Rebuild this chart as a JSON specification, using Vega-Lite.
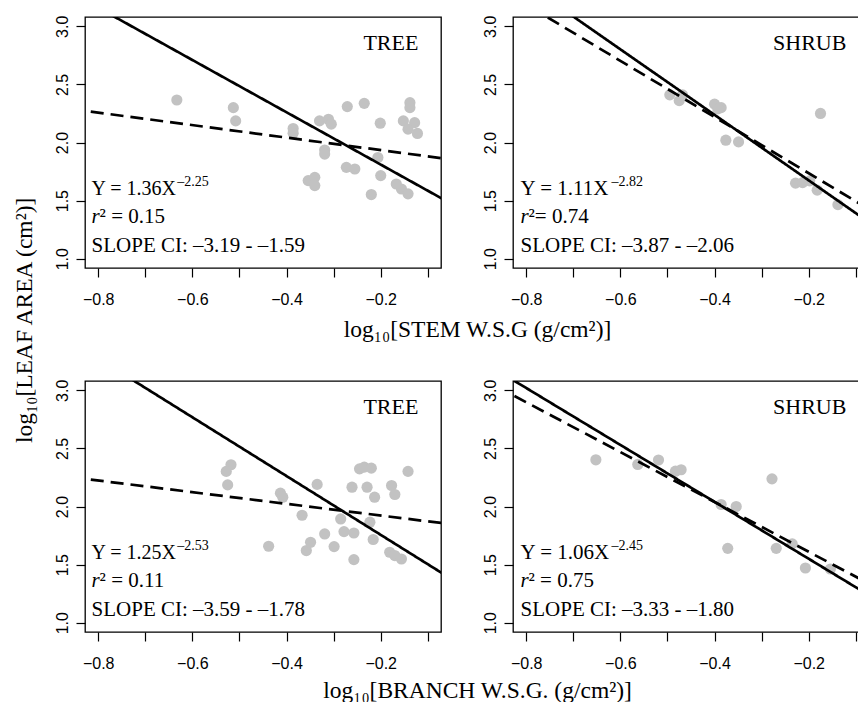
{
  "$schema": "https://vega.github.io/schema/vega-lite/v6.json",
  "background": "white",
  "padding": {"left": 12, "top": 14, "right": 0, "bottom": 0},
  "spacing": 36,
  "title": {"text": "log₁₀[LEAF AREA (cm²)]", "orient": "left", "anchor": "middle", "frame": "bounds", "offset": 17, "dx": 38},
  "datasets": {
    "pts": [
      {"p": "TL", "x": -0.633, "y": 2.366}, {"p": "TL", "x": -0.513, "y": 2.30}, {"p": "TL", "x": -0.508, "y": 2.186},
      {"p": "TL", "x": -0.386, "y": 2.12}, {"p": "TL", "x": -0.386, "y": 2.08},
      {"p": "TL", "x": -0.271, "y": 2.309}, {"p": "TL", "x": -0.235, "y": 2.337}, {"p": "TL", "x": -0.138, "y": 2.343}, {"p": "TL", "x": -0.138, "y": 2.30},
      {"p": "TL", "x": -0.330, "y": 2.186}, {"p": "TL", "x": -0.311, "y": 2.20}, {"p": "TL", "x": -0.305, "y": 2.158},
      {"p": "TL", "x": -0.201, "y": 2.166},
      {"p": "TL", "x": -0.152, "y": 2.186}, {"p": "TL", "x": -0.128, "y": 2.171}, {"p": "TL", "x": -0.142, "y": 2.115}, {"p": "TL", "x": -0.122, "y": 2.078},
      {"p": "TL", "x": -0.319, "y": 1.935}, {"p": "TL", "x": -0.319, "y": 1.90},
      {"p": "TL", "x": -0.273, "y": 1.786}, {"p": "TL", "x": -0.255, "y": 1.772},
      {"p": "TL", "x": -0.206, "y": 1.871}, {"p": "TL", "x": -0.200, "y": 1.715},
      {"p": "TL", "x": -0.354, "y": 1.672}, {"p": "TL", "x": -0.340, "y": 1.700}, {"p": "TL", "x": -0.340, "y": 1.629},
      {"p": "TL", "x": -0.220, "y": 1.552},
      {"p": "TL", "x": -0.167, "y": 1.643}, {"p": "TL", "x": -0.156, "y": 1.600}, {"p": "TL", "x": -0.142, "y": 1.558},
      {"p": "TR", "x": -0.495, "y": 2.41}, {"p": "TR", "x": -0.475, "y": 2.36}, {"p": "TR", "x": -0.468, "y": 2.41},
      {"p": "TR", "x": -0.400, "y": 2.33}, {"p": "TR", "x": -0.386, "y": 2.30}, {"p": "TR", "x": -0.393, "y": 2.29},
      {"p": "TR", "x": -0.376, "y": 2.02}, {"p": "TR", "x": -0.349, "y": 2.005}, {"p": "TR", "x": -0.175, "y": 2.25},
      {"p": "TR", "x": -0.228, "y": 1.65}, {"p": "TR", "x": -0.213, "y": 1.655}, {"p": "TR", "x": -0.198, "y": 1.67},
      {"p": "TR", "x": -0.182, "y": 1.59}, {"p": "TR", "x": -0.138, "y": 1.465},
      {"p": "BL", "x": -0.518, "y": 2.359}, {"p": "BL", "x": -0.528, "y": 2.302}, {"p": "BL", "x": -0.525, "y": 2.186},
      {"p": "BL", "x": -0.413, "y": 2.115}, {"p": "BL", "x": -0.408, "y": 2.08},
      {"p": "BL", "x": -0.367, "y": 1.925}, {"p": "BL", "x": -0.438, "y": 1.658},
      {"p": "BL", "x": -0.358, "y": 1.621}, {"p": "BL", "x": -0.349, "y": 1.692},
      {"p": "BL", "x": -0.335, "y": 2.19}, {"p": "BL", "x": -0.319, "y": 1.764}, {"p": "BL", "x": -0.299, "y": 1.655},
      {"p": "BL", "x": -0.285, "y": 1.893}, {"p": "BL", "x": -0.278, "y": 1.784}, {"p": "BL", "x": -0.257, "y": 1.772},
      {"p": "BL", "x": -0.257, "y": 1.543}, {"p": "BL", "x": -0.261, "y": 2.166},
      {"p": "BL", "x": -0.245, "y": 2.324}, {"p": "BL", "x": -0.235, "y": 2.339}, {"p": "BL", "x": -0.220, "y": 2.33},
      {"p": "BL", "x": -0.229, "y": 2.166}, {"p": "BL", "x": -0.213, "y": 2.08},
      {"p": "BL", "x": -0.223, "y": 1.865}, {"p": "BL", "x": -0.216, "y": 1.716},
      {"p": "BL", "x": -0.177, "y": 2.181}, {"p": "BL", "x": -0.170, "y": 2.103}, {"p": "BL", "x": -0.142, "y": 2.302},
      {"p": "BL", "x": -0.181, "y": 1.606}, {"p": "BL", "x": -0.170, "y": 1.578}, {"p": "BL", "x": -0.156, "y": 1.548},
      {"p": "BR", "x": -0.652, "y": 2.402}, {"p": "BR", "x": -0.563, "y": 2.362}, {"p": "BR", "x": -0.519, "y": 2.40},
      {"p": "BR", "x": -0.483, "y": 2.304}, {"p": "BR", "x": -0.471, "y": 2.316}, {"p": "BR", "x": -0.386, "y": 2.017},
      {"p": "BR", "x": -0.354, "y": 2.0}, {"p": "BR", "x": -0.278, "y": 2.238}, {"p": "BR", "x": -0.372, "y": 1.64},
      {"p": "BR", "x": -0.269, "y": 1.64}, {"p": "BR", "x": -0.235, "y": 1.678}, {"p": "BR", "x": -0.207, "y": 1.471},
      {"p": "BR", "x": -0.154, "y": 1.462}
    ],
    "fits": [
      {"p": "TL", "fit": "SMA", "x": -0.9, "y": 3.385}, {"p": "TL", "fit": "SMA", "x": 0.0, "y": 1.36},
      {"p": "TL", "fit": "OLS", "x": -0.9, "y": 2.311}, {"p": "TL", "fit": "OLS", "x": 0.0, "y": 1.827},
      {"p": "TR", "fit": "SMA", "x": -0.9, "y": 3.648}, {"p": "TR", "fit": "SMA", "x": 0.0, "y": 1.11},
      {"p": "TR", "fit": "OLS", "x": -0.9, "y": 3.428}, {"p": "TR", "fit": "OLS", "x": 0.0, "y": 1.252},
      {"p": "BL", "fit": "SMA", "x": -0.9, "y": 3.527}, {"p": "BL", "fit": "SMA", "x": 0.0, "y": 1.25},
      {"p": "BL", "fit": "OLS", "x": -0.9, "y": 2.274}, {"p": "BL", "fit": "OLS", "x": 0.0, "y": 1.822},
      {"p": "BR", "fit": "SMA", "x": -0.9, "y": 3.265}, {"p": "BR", "fit": "SMA", "x": 0.0, "y": 1.06},
      {"p": "BR", "fit": "OLS", "x": -0.9, "y": 3.112}, {"p": "BR", "fit": "OLS", "x": 0.0, "y": 1.181}
    ]
  },
  "config": {
    "view": {"stroke": "black", "strokeWidth": 1.3},
    "axis": {"domain": false, "grid": false, "tickColor": "black", "tickSize": 9, "tickWidth": 1.2, "labelFont": "Liberation Sans", "labelFontSize": 16, "labelColor": "black", "labelFlush": false, "labelOverlap": false, "labelBound": false},
    "axisX": {"labelPadding": 14},
    "axisY": {"labelAngle": 270, "labelAlign": "center", "labelBaseline": "bottom", "labelPadding": 6},
    "text": {"font": "Liberation Serif", "color": "black", "baseline": "alphabetic", "align": "left", "fontSize": 21},
    "title": {"font": "Liberation Serif", "fontSize": 23.5, "fontWeight": "normal", "color": "black"}
  },
  "vconcat": [
    {
      "title": {"text": "log₁₀[STEM W.S.G (g/cm²)]", "orient": "bottom", "anchor": "middle", "frame": "bounds", "offset": 10, "dx": 16},
      "spacing": 72,
      "bounds": "flush",
      "hconcat": [
        {
          "width": 356, "height": 251,
          "layer": [
            {"data": {"name": "pts"}, "transform": [{"filter": "datum.p == 'TL'"}],
             "mark": {"type": "circle", "size": 125, "color": "#c2c2c2", "opacity": 1},
             "encoding": {
               "x": {"field": "x", "type": "quantitative", "scale": {"domain": [-0.828, -0.072], "nice": false, "zero": false}, "axis": {"title": null, "values": [-0.8, -0.7, -0.6, -0.5, -0.4, -0.3, -0.2, -0.1], "format": ".1f", "labelExpr": "abs(round(datum.value*10)) % 2 == 0 ? datum.label : ''"}},
               "y": {"field": "y", "type": "quantitative", "scale": {"domain": [0.92, 3.08], "nice": false, "zero": false}, "axis": {"title": null, "values": [1, 1.5, 2, 2.5, 3], "format": ".1f"}}
             }},
            {"data": {"name": "fits"}, "transform": [{"filter": "datum.p == 'TL'"}],
             "mark": {"type": "line", "clip": true, "color": "black", "strokeWidth": 2.7},
             "encoding": {"x": {"field": "x", "type": "quantitative"}, "y": {"field": "y", "type": "quantitative"}, "detail": {"field": "fit"},
               "strokeDash": {"field": "fit", "type": "nominal", "scale": {"domain": ["SMA", "OLS"], "range": [[1, 0], [13, 7]]}, "legend": null}}},
            {"data": {"values": [{}]}, "mark": {"type": "text", "align": "right", "fontSize": 22}, "encoding": {"x": {"datum": -0.12}, "y": {"datum": 2.795}, "text": {"value": "TREE"}}},
            {"data": {"values": [{}]}, "mark": {"type": "text", "fontSize": 20}, "encoding": {"x": {"datum": -0.814}, "y": {"datum": 1.55}, "text": {"value": "Y = 1.36X"}}},
            {"data": {"values": [{}]}, "mark": {"type": "text", "fontSize": 14, "dy": -9}, "encoding": {"x": {"datum": -0.632}, "y": {"datum": 1.55}, "text": {"value": "–2.25"}}},
            {"data": {"values": [{}]}, "mark": {"type": "text", "fontStyle": "italic"}, "encoding": {"x": {"datum": -0.814}, "y": {"datum": 1.305}, "text": {"value": "r"}}},
            {"data": {"values": [{}]}, "mark": {"type": "text", "dx": 8}, "encoding": {"x": {"datum": -0.814}, "y": {"datum": 1.305}, "text": {"value": "² = 0.15"}}},
            {"data": {"values": [{}]}, "mark": {"type": "text"}, "encoding": {"x": {"datum": -0.814}, "y": {"datum": 1.055}, "text": {"value": "SLOPE CI: –3.19 - –1.59"}}}
          ]
        },
        {
          "width": 356, "height": 251,
          "layer": [
            {"data": {"name": "pts"}, "transform": [{"filter": "datum.p == 'TR'"}],
             "mark": {"type": "circle", "size": 125, "color": "#c2c2c2", "opacity": 1},
             "encoding": {
               "x": {"field": "x", "type": "quantitative", "scale": {"domain": [-0.828, -0.072], "nice": false, "zero": false}, "axis": {"title": null, "values": [-0.8, -0.7, -0.6, -0.5, -0.4, -0.3, -0.2, -0.1], "format": ".1f", "labelExpr": "abs(round(datum.value*10)) % 2 == 0 ? datum.label : ''"}},
               "y": {"field": "y", "type": "quantitative", "scale": {"domain": [0.92, 3.08], "nice": false, "zero": false}, "axis": {"title": null, "values": [1, 1.5, 2, 2.5, 3], "format": ".1f"}}
             }},
            {"data": {"name": "fits"}, "transform": [{"filter": "datum.p == 'TR'"}],
             "mark": {"type": "line", "clip": true, "color": "black", "strokeWidth": 2.7},
             "encoding": {"x": {"field": "x", "type": "quantitative"}, "y": {"field": "y", "type": "quantitative"}, "detail": {"field": "fit"},
               "strokeDash": {"field": "fit", "type": "nominal", "scale": {"domain": ["SMA", "OLS"], "range": [[1, 0], [13, 7]]}, "legend": null}}},
            {"data": {"values": [{}]}, "mark": {"type": "text", "align": "right", "fontSize": 22}, "encoding": {"x": {"datum": -0.12}, "y": {"datum": 2.795}, "text": {"value": "SHRUB"}}},
            {"data": {"values": [{}]}, "mark": {"type": "text"}, "encoding": {"x": {"datum": -0.812}, "y": {"datum": 1.55}, "text": {"value": "Y = 1.11X"}}},
            {"data": {"values": [{}]}, "mark": {"type": "text", "fontSize": 14, "dy": -9}, "encoding": {"x": {"datum": -0.619}, "y": {"datum": 1.55}, "text": {"value": "–2.82"}}},
            {"data": {"values": [{}]}, "mark": {"type": "text", "fontStyle": "italic"}, "encoding": {"x": {"datum": -0.812}, "y": {"datum": 1.305}, "text": {"value": "r"}}},
            {"data": {"values": [{}]}, "mark": {"type": "text", "dx": 8}, "encoding": {"x": {"datum": -0.812}, "y": {"datum": 1.305}, "text": {"value": "²= 0.74"}}},
            {"data": {"values": [{}]}, "mark": {"type": "text"}, "encoding": {"x": {"datum": -0.812}, "y": {"datum": 1.055}, "text": {"value": "SLOPE CI: –3.87 - –2.06"}}}
          ]
        }
      ]
    },
    {
      "title": {"text": "log₁₀[BRANCH W.S.G. (g/cm²)]", "orient": "bottom", "anchor": "middle", "frame": "bounds", "offset": 7, "dx": 16},
      "spacing": 72,
      "bounds": "flush",
      "hconcat": [
        {
          "width": 356, "height": 251,
          "layer": [
            {"data": {"name": "pts"}, "transform": [{"filter": "datum.p == 'BL'"}],
             "mark": {"type": "circle", "size": 125, "color": "#c2c2c2", "opacity": 1},
             "encoding": {
               "x": {"field": "x", "type": "quantitative", "scale": {"domain": [-0.828, -0.072], "nice": false, "zero": false}, "axis": {"title": null, "values": [-0.8, -0.7, -0.6, -0.5, -0.4, -0.3, -0.2, -0.1], "format": ".1f", "labelExpr": "abs(round(datum.value*10)) % 2 == 0 ? datum.label : ''"}},
               "y": {"field": "y", "type": "quantitative", "scale": {"domain": [0.92, 3.08], "nice": false, "zero": false}, "axis": {"title": null, "values": [1, 1.5, 2, 2.5, 3], "format": ".1f"}}
             }},
            {"data": {"name": "fits"}, "transform": [{"filter": "datum.p == 'BL'"}],
             "mark": {"type": "line", "clip": true, "color": "black", "strokeWidth": 2.7},
             "encoding": {"x": {"field": "x", "type": "quantitative"}, "y": {"field": "y", "type": "quantitative"}, "detail": {"field": "fit"},
               "strokeDash": {"field": "fit", "type": "nominal", "scale": {"domain": ["SMA", "OLS"], "range": [[1, 0], [13, 7]]}, "legend": null}}},
            {"data": {"values": [{}]}, "mark": {"type": "text", "align": "right", "fontSize": 22}, "encoding": {"x": {"datum": -0.12}, "y": {"datum": 2.795}, "text": {"value": "TREE"}}},
            {"data": {"values": [{}]}, "mark": {"type": "text", "fontSize": 20}, "encoding": {"x": {"datum": -0.814}, "y": {"datum": 1.55}, "text": {"value": "Y = 1.25X"}}},
            {"data": {"values": [{}]}, "mark": {"type": "text", "fontSize": 14, "dy": -9}, "encoding": {"x": {"datum": -0.632}, "y": {"datum": 1.55}, "text": {"value": "–2.53"}}},
            {"data": {"values": [{}]}, "mark": {"type": "text", "fontStyle": "italic"}, "encoding": {"x": {"datum": -0.814}, "y": {"datum": 1.305}, "text": {"value": "r"}}},
            {"data": {"values": [{}]}, "mark": {"type": "text", "dx": 8}, "encoding": {"x": {"datum": -0.814}, "y": {"datum": 1.305}, "text": {"value": "² = 0.11"}}},
            {"data": {"values": [{}]}, "mark": {"type": "text"}, "encoding": {"x": {"datum": -0.814}, "y": {"datum": 1.055}, "text": {"value": "SLOPE CI: –3.59 - –1.78"}}}
          ]
        },
        {
          "width": 356, "height": 251,
          "layer": [
            {"data": {"name": "pts"}, "transform": [{"filter": "datum.p == 'BR'"}],
             "mark": {"type": "circle", "size": 125, "color": "#c2c2c2", "opacity": 1},
             "encoding": {
               "x": {"field": "x", "type": "quantitative", "scale": {"domain": [-0.828, -0.072], "nice": false, "zero": false}, "axis": {"title": null, "values": [-0.8, -0.7, -0.6, -0.5, -0.4, -0.3, -0.2, -0.1], "format": ".1f", "labelExpr": "abs(round(datum.value*10)) % 2 == 0 ? datum.label : ''"}},
               "y": {"field": "y", "type": "quantitative", "scale": {"domain": [0.92, 3.08], "nice": false, "zero": false}, "axis": {"title": null, "values": [1, 1.5, 2, 2.5, 3], "format": ".1f"}}
             }},
            {"data": {"name": "fits"}, "transform": [{"filter": "datum.p == 'BR'"}],
             "mark": {"type": "line", "clip": true, "color": "black", "strokeWidth": 2.7},
             "encoding": {"x": {"field": "x", "type": "quantitative"}, "y": {"field": "y", "type": "quantitative"}, "detail": {"field": "fit"},
               "strokeDash": {"field": "fit", "type": "nominal", "scale": {"domain": ["SMA", "OLS"], "range": [[1, 0], [13, 7]]}, "legend": null}}},
            {"data": {"values": [{}]}, "mark": {"type": "text", "align": "right", "fontSize": 22}, "encoding": {"x": {"datum": -0.12}, "y": {"datum": 2.795}, "text": {"value": "SHRUB"}}},
            {"data": {"values": [{}]}, "mark": {"type": "text"}, "encoding": {"x": {"datum": -0.812}, "y": {"datum": 1.55}, "text": {"value": "Y = 1.06X"}}},
            {"data": {"values": [{}]}, "mark": {"type": "text", "fontSize": 14, "dy": -9}, "encoding": {"x": {"datum": -0.619}, "y": {"datum": 1.55}, "text": {"value": "–2.45"}}},
            {"data": {"values": [{}]}, "mark": {"type": "text", "fontStyle": "italic"}, "encoding": {"x": {"datum": -0.812}, "y": {"datum": 1.305}, "text": {"value": "r"}}},
            {"data": {"values": [{}]}, "mark": {"type": "text", "dx": 8}, "encoding": {"x": {"datum": -0.812}, "y": {"datum": 1.305}, "text": {"value": "² = 0.75"}}},
            {"data": {"values": [{}]}, "mark": {"type": "text"}, "encoding": {"x": {"datum": -0.812}, "y": {"datum": 1.055}, "text": {"value": "SLOPE CI: –3.33 - –1.80"}}}
          ]
        }
      ]
    }
  ]
}
